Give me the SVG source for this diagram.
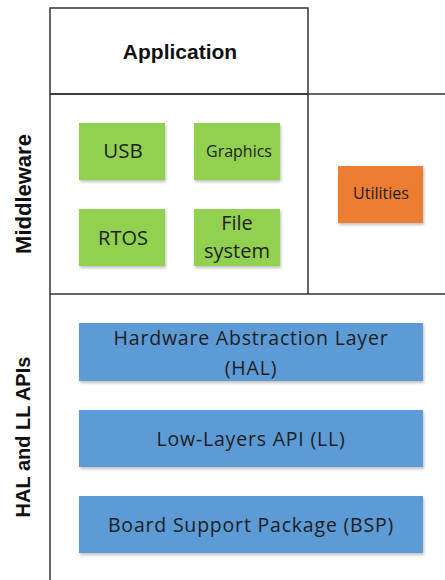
<svg xmlns="http://www.w3.org/2000/svg" width="445" height="580" viewBox="0 0 445 580">
<defs>
<filter id="sh" x="-10%" y="-10%" width="125%" height="130%">
<feDropShadow dx="1" dy="2" stdDeviation="1.5" flood-color="#000" flood-opacity="0.25"/>
</filter>
</defs>
<style>
.ln{stroke:#333;stroke-width:1.5;fill:none}
.g{fill:#92D050;filter:url(#sh)}
.o{fill:#ED7D31;filter:url(#sh)}
.b{fill:#5B9BD5;filter:url(#sh)}
.t{font-family:"Open Sans","Liberation Sans",sans-serif;fill:#1e1e1e;text-anchor:middle}
.bt{font-size:19.5px;letter-spacing:0.8px}
.h{font-family:"Liberation Sans",Arial,sans-serif;font-weight:bold;fill:#111;text-anchor:middle}
</style>
<rect width="445" height="580" fill="#fff"/>
<g id="frame">
<rect class="ln" x="50" y="8" width="258" height="86"/>
<line class="ln" x1="50" y1="94" x2="445" y2="94"/>
<line class="ln" x1="308" y1="94" x2="308" y2="294"/>
<line class="ln" x1="50" y1="294" x2="445" y2="294"/>
<line class="ln" x1="50" y1="94" x2="50" y2="580"/>
</g>
<g id="application"><text class="h" x="180" y="59" font-size="21">Application</text></g>
<g id="middleware-label"><text class="h" transform="translate(31,194) rotate(-90)" font-size="22">Middleware</text></g>
<g id="hal-ll-label"><text class="h" transform="translate(30,437) rotate(-90)" font-size="20">HAL and LL APIs</text></g>
<g id="usb"><rect class="g" x="79" y="123" width="86" height="57"/><text class="t" x="123" y="158" font-size="20.5">USB</text></g>
<g id="graphics"><rect class="g" x="194" y="123" width="86" height="57"/><text class="t" x="239" y="157" font-size="16">Graphics</text></g>
<g id="rtos"><rect class="g" x="79" y="209" width="86" height="57"/><text class="t" x="123" y="245" font-size="20">RTOS</text></g>
<g id="filesystem"><rect class="g" x="194" y="209" width="86" height="57"/><text class="t" x="237" y="230" font-size="20">File</text><text class="t" x="237" y="258" font-size="20">system</text></g>
<g id="utilities"><rect class="o" x="338" y="166" width="85" height="57"/><text class="t" x="381" y="199" font-size="16">Utilities</text></g>
<g id="hal"><rect class="b" x="79" y="323" width="344" height="58"/><text class="t bt" x="251" y="345">Hardware Abstraction Layer</text><text class="t bt" x="251" y="375">(HAL)</text></g>
<g id="ll"><rect class="b" x="79" y="410" width="344" height="57"/><text class="t bt" x="251" y="446">Low-Layers API (LL)</text></g>
<g id="bsp"><rect class="b" x="79" y="496" width="344" height="57"/><text class="t bt" x="251" y="532">Board Support Package (BSP)</text></g>
</svg>
